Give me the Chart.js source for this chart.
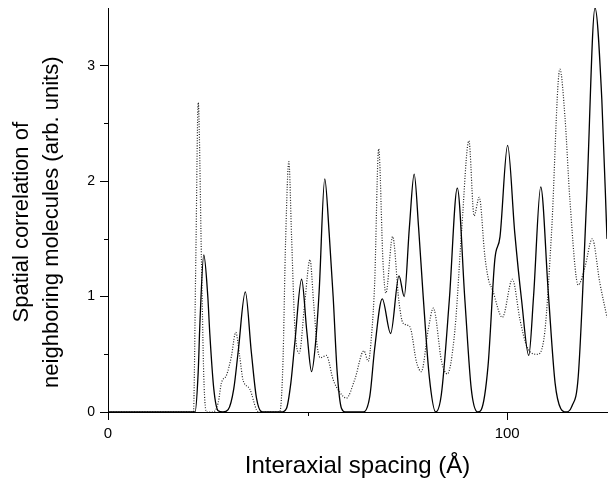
<!DOCTYPE html>
<html>
<head>
<meta charset="utf-8">
<script src="https://cdn.jsdelivr.net/npm/chart.js@4/dist/chart.umd.min.js"></script>
<style>
  html, body { margin: 0; padding: 0; background: #fff; }
  #wrap { width: 614px; height: 480px; position: relative; }
</style>
</head>
<body>
<div id="wrap"><canvas id="c" width="614" height="480"></canvas></div>
<script>
// ---- data ----
const solidX = [0, 21.8, 22.6, 23.0, 24.0, 25.0, 25.5, 26.5, 27.6, 28.8, 30.1, 31.5, 32.6, 34.4, 35.9, 37.2, 38.6,
  43.5, 44.7, 45.8, 46.8, 48.5, 49.8, 51.0, 52.0, 52.9, 54.3, 55.4, 56.4, 57.4, 58.5, 59.5,
  64.0, 65.6, 66.8, 68.7, 70.8, 72.9, 74.2, 75.5, 76.7, 77.8, 78.9, 80.5, 82.1,
  83.5, 85.5, 87.5, 89.4, 91.0, 92.6, 93.5, 95.2, 96.9, 98.2, 100.1, 101.9, 103.6, 105.4,
  106.6, 108.4, 110.3, 112.0, 113.4, 114.7, 116.2, 117.8, 119.9, 122.0, 123.7, 125.0];
const solidY = [0, 0, 0.35, 0.75, 1.36, 1.0, 0.68, 0.2, 0.01, 0, 0.02, 0.2, 0.52, 1.04, 0.52, 0.12, 0,
  0, 0.03, 0.25, 0.6, 1.15, 0.7, 0.35, 0.6, 1.05, 2.02, 1.55, 1.0, 0.35, 0.03, 0,
  0, 0.14, 0.55, 0.98, 0.68, 1.18, 1.0, 1.6, 2.06, 1.6, 1.03, 0.3, 0,
  0.15, 0.97, 1.94, 0.97, 0.2, 0, 0.02, 0.4, 1.32, 1.52, 2.31, 1.55, 0.97, 0.49,
  1.0, 1.95, 1.03, 0.25, 0.03, 0, 0.05, 0.31, 1.84, 3.5, 2.71, 1.5];

const dottedX = [0, 21.4, 22.0, 22.6, 23.4, 24.0, 24.7, 26.3, 27.6, 28.4, 29.7, 30.9, 32.0, 33.0, 33.8, 35.5, 37.2, 37.9,
  43.0, 43.8, 44.5, 45.3, 46.0, 46.8, 47.9, 49.3, 50.6, 51.5, 52.4, 53.2, 54.7, 56.4, 58.1, 59.7, 61.8, 64.1, 65.2,
  66.1, 66.8, 67.8, 68.9, 69.6, 71.3, 72.9, 73.9, 75.6, 77.3, 78.5, 80.2, 81.5, 83.6, 85.0, 86.9, 88.6, 90.4,
  91.7, 93.0, 94.4, 95.3, 96.3, 98.8, 101.3, 103.2, 104.9, 107.5, 109.4, 111.1, 113.2, 114.5, 115.7, 117.8,
  119.5, 121.3, 123.2, 125.0];
const dottedY = [0, 0, 1.34, 2.68, 1.34, 0.3, 0, 0, 0.08, 0.25, 0.32, 0.48, 0.69, 0.48, 0.28, 0.2, 0.02, 0,
  0, 0.4, 1.5, 2.17, 1.5, 0.74, 0.51, 0.95, 1.32, 0.95, 0.57, 0.47, 0.49, 0.28, 0.17, 0.12, 0.28, 0.53, 0.44,
  0.7, 1.12, 2.28, 1.29, 1.03, 1.52, 0.95, 0.77, 0.74, 0.43, 0.35, 0.71, 0.9, 0.43, 0.33, 0.71, 1.58, 2.35,
  1.7, 1.86, 1.35, 1.15, 1.06, 0.82, 1.15, 0.8, 0.57, 0.5, 0.69, 1.55, 2.97, 2.54, 1.84, 1.1,
  1.26, 1.5, 1.12, 0.82];

const xMajorTicks = [0, 100];
const xMinorTicks = [50];
const yMajorTicks = [0, 1, 2, 3];
const yMinorTicks = [0.5, 1.5, 2.5];
const xTitle = 'Interaxial spacing (Å)';
const yTitle = ['Spatial correlation of', 'neighboring molecules (arb. units)'];

const FONT = "'Liberation Sans', Arial, Helvetica, sans-serif";

const toPts = (xs, ys) => xs.map((x, i) => ({ x: x, y: ys[i] }));

const minorTicks = {
  id: 'minorTicks',
  afterDraw(chart) {
    const ctx = chart.ctx;
    const xs = chart.scales.x, ys = chart.scales.y;
    const area = chart.chartArea;
    ctx.save();
    ctx.strokeStyle = '#000';
    ctx.lineWidth = 1;
    ctx.beginPath();
    yMinorTicks.forEach(v => {
      const p = Math.round(ys.getPixelForValue(v)) + 0.5;
      ctx.moveTo(area.left - 4, p);
      ctx.lineTo(area.left, p);
    });
    xMinorTicks.forEach(v => {
      const p = Math.round(xs.getPixelForValue(v)) + 0.5;
      ctx.moveTo(p, area.bottom);
      ctx.lineTo(p, area.bottom + 4);
    });
    ctx.stroke();
    ctx.restore();
  }
};

new Chart(document.getElementById('c'), {
  type: 'line',
  data: {
    datasets: [
      {
        label: 'solid',
        data: toPts(solidX, solidY),
        borderColor: '#000',
        borderWidth: 1.3,
        pointRadius: 0,
        fill: false,
        cubicInterpolationMode: 'monotone'
      },
      {
        label: 'dotted',
        data: toPts(dottedX, dottedY),
        borderColor: '#222',
        borderWidth: 1.2,
        borderDash: [1, 1.6],
        pointRadius: 0,
        fill: false,
        cubicInterpolationMode: 'monotone'
      }
    ]
  },
  options: {
    responsive: false,
    animation: false,
    devicePixelRatio: 1,
    layout: { padding: { top: 8, right: 7, left: 0, bottom: 0 } },
    plugins: { legend: { display: false }, tooltip: { enabled: false } },
    scales: {
      x: {
        type: 'linear',
        min: 0, max: 125,
        afterBuildTicks(s) { s.ticks = xMajorTicks.map(v => ({ value: v })); },
        afterFit(s) { s.height = 68; s.paddingLeft = 0; s.paddingRight = 0; },
        border: { display: true, color: '#000', width: 1 },
        grid: { drawOnChartArea: false, drawTicks: true, tickLength: 8, tickColor: '#000', tickWidth: 1 },
        ticks: { color: '#000', font: { family: FONT, size: 15 }, padding: 5, maxRotation: 0 },
        title: {
          display: true, text: xTitle, color: '#000',
          font: { family: FONT, size: 24, lineHeight: 1 },
          padding: { top: 0, bottom: 1.5 }
        }
      },
      y: {
        type: 'linear',
        min: 0, max: 3.5,
        afterBuildTicks(s) { s.ticks = yMajorTicks.map(v => ({ value: v })); },
        afterFit(s) { s.width = 108; s.paddingTop = 0; s.paddingBottom = 0; },
        border: { display: true, color: '#000', width: 1 },
        grid: { drawOnChartArea: false, drawTicks: true, tickLength: 8, tickColor: '#000', tickWidth: 1 },
        ticks: { color: '#000', font: { family: FONT, size: 14 }, padding: 5 },
        title: {
          display: true, text: yTitle.map(t => t + '    '), color: '#000',
          font: { family: FONT, size: 22, lineHeight: 1.36 },
          padding: { top: 7, bottom: 0 }
        }
      }
    }
  },
  plugins: [minorTicks]
});
</script>
</body>
</html>
